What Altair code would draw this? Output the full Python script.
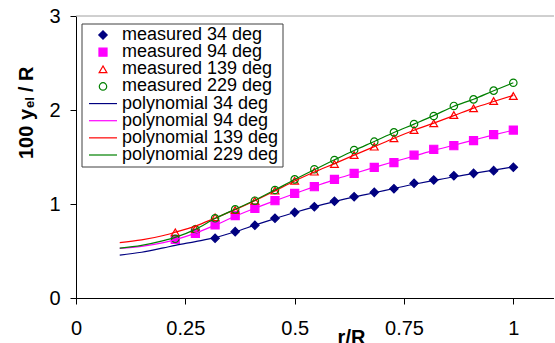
import altair as alt
import pandas as pd

FONT = "Liberation Sans"

series = ["34", "94", "139", "229"]
colors = ["#000080", "#FF00FF", "#FF0000", "#008000"]
shapes = ["diamond", "square", "triangle-up", "circle"]
fills = ["#000080", "#FF00FF", "transparent", "transparent"]
sizes = [70, 55, 80, 50]

r_meas = [0.227, 0.273, 0.318, 0.364, 0.409, 0.455, 0.5, 0.545, 0.591,
          0.636, 0.682, 0.727, 0.773, 0.818, 0.864, 0.909, 0.955, 1.0]
meas_34 = [None, None, 0.635, 0.706, 0.773, 0.848, 0.911, 0.971, 1.03,
           1.078, 1.124, 1.163, 1.22, 1.255, 1.301, 1.326, 1.355, 1.39]
meas_94 = [0.624, 0.688, 0.777, 0.876, 0.954, 1.035, 1.113, 1.184, 1.262,
           1.326, 1.39, 1.44, 1.52, 1.582, 1.62, 1.674, 1.738, 1.787]
meas_139 = [0.699, 0.734, 0.858, 0.936, 1.035, 1.142, 1.248, 1.344, 1.426,
            1.521, 1.61, 1.699, 1.787, 1.858, 1.947, 2.018, 2.096, 2.149]
meas_229 = [0.63, 0.73, 0.848, 0.943, 1.035, 1.149, 1.262, 1.369, 1.468,
            1.574, 1.663, 1.762, 1.851, 1.936, 2.043, 2.113, 2.206, 2.29]

r_poly = [0.1, 0.15, 0.2, 0.227, 0.273, 0.318, 0.364, 0.409, 0.455, 0.5, 0.545,
          0.591, 0.636, 0.682, 0.727, 0.773, 0.818, 0.864, 0.909, 0.955, 1.0]
poly_34 = [0.457, 0.487, 0.533, 0.56, 0.6, 0.642, 0.705, 0.775, 0.845, 0.91, 0.97,
           1.025, 1.075, 1.12, 1.165, 1.21, 1.25, 1.29, 1.325, 1.36, 1.395]
poly_94 = [0.528, 0.55, 0.59, 0.62, 0.69, 0.775, 0.87, 0.955, 1.035, 1.11, 1.185,
           1.26, 1.325, 1.39, 1.45, 1.51, 1.57, 1.625, 1.68, 1.735, 1.785]
poly_139 = [0.59, 0.618, 0.665, 0.70, 0.765, 0.85, 0.94, 1.035, 1.14, 1.245, 1.34,
            1.43, 1.52, 1.61, 1.70, 1.785, 1.86, 1.94, 2.02, 2.09, 2.155]
poly_229 = [0.53, 0.56, 0.61, 0.645, 0.73, 0.845, 0.945, 1.04, 1.15, 1.26, 1.365,
            1.47, 1.57, 1.665, 1.76, 1.85, 1.94, 2.04, 2.115, 2.205, 2.29]

meas = {"34": meas_34, "94": meas_94, "139": meas_139, "229": meas_229}
poly = {"34": poly_34, "94": poly_94, "139": poly_139, "229": poly_229}

df_m = pd.DataFrame([
    {"series": s, "r": r, "y": v}
    for s in series for r, v in zip(r_meas, meas[s]) if v is not None
])
df_p = pd.DataFrame([
    {"series": s, "r": r, "y": v}
    for s in series for r, v in zip(r_poly, poly[s])
])

legend_labels = [f"measured {s} deg" for s in series] + [f"polynomial {s} deg" for s in series]
df_leg = pd.DataFrame({
    "label": legend_labels,
    "series": series * 2,
    "kind": ["measured"] * 4 + ["polynomial"] * 4,
})

title_parts = ["100 y", "el", "/ R"]

W, H = 478, 282

x_scale = alt.Scale(domain=[0, 1.093], nice=False, zero=False)
y_scale = alt.Scale(domain=[0, 3], nice=False)
stroke_enc = alt.Stroke("series:N", scale=alt.Scale(domain=series, range=colors), legend=None)
fill_enc = alt.Fill("series:N", scale=alt.Scale(domain=series, range=fills), legend=None)
shape_enc = alt.Shape("series:N", scale=alt.Scale(domain=series, range=shapes), legend=None)
size_enc = alt.Size("series:N", scale=alt.Scale(domain=series, range=sizes), legend=None)

x_axis = alt.Axis(
    values=[0, 0.25, 0.5, 0.75, 1], format=".2~f", title="r/R",
    titleFont=FONT, titleFontSize=20, titleFontWeight="bold", titleColor="black",
    titleX=275, titleY=45, titleAlign="center", titleBaseline="alphabetic",
    labelFont=FONT, labelFontSize=20, labelColor="black", labelPadding=14,
    labelFlush=False, labelOverlap=False, labelBound=False,
    tickSize=6, tickColor="black", domainColor="black", grid=False,
)
y_axis = alt.Axis(
    values=[0, 1, 2, 3], format="d", title=None,
    labelFont=FONT, labelFontSize=20, labelColor="black", labelPadding=10,
    labelFlush=False, labelOverlap=False, labelBound=False,
    tickSize=6, tickColor="black", domainColor="black", grid=False,
)

points = alt.Chart(df_m).mark_point(opacity=1, strokeWidth=1.2).encode(
    x=alt.X("r:Q", scale=x_scale, axis=x_axis),
    y=alt.Y("y:Q", scale=y_scale, axis=y_axis),
    shape=shape_enc, stroke=stroke_enc, fill=fill_enc, size=size_enc,
)
lines = alt.Chart(df_p).mark_line(strokeWidth=1.2, interpolate="monotone").encode(
    x=alt.X("r:Q", scale=x_scale),
    y=alt.Y("y:Q", scale=y_scale),
    stroke=stroke_enc,
)
main = alt.layer(points, lines)

dummy = pd.DataFrame({"d": [0]})
top_rule = alt.Chart(dummy).mark_rule(color="#A0A0A0", strokeWidth=1).encode(
    x=alt.value(0), x2=alt.value(W), y=alt.value(0)
)

leg_y = alt.Y("label:N", axis=None,
              scale=alt.Scale(type="point", domain=legend_labels, range=[19, 139], padding=0))
box = alt.Chart(dummy).mark_rect(fill="white", stroke="#404040", strokeWidth=1).encode(
    x=alt.value(6), x2=alt.value(207), y=alt.value(8), y2=alt.value(151)
)
leg_pts = alt.Chart(df_leg).transform_filter(alt.datum.kind == "measured").mark_point(
    opacity=1, strokeWidth=1.2
).encode(x=alt.value(27), y=leg_y, shape=shape_enc, stroke=stroke_enc, fill=fill_enc, size=size_enc)
leg_lines = alt.Chart(df_leg).transform_filter(alt.datum.kind == "polynomial").mark_rule(
    strokeWidth=1.2
).encode(x=alt.value(13), x2=alt.value(41), y=leg_y, stroke=stroke_enc)
leg_text = alt.Chart(df_leg).mark_text(
    align="left", baseline="middle", font=FONT, fontSize=18, color="black"
).encode(x=alt.value(46), y=leg_y, text="label:N")
legend = alt.layer(box, leg_pts, leg_lines, leg_text)

t1 = alt.Chart(dummy).mark_text(
    angle=270, align="left", baseline="alphabetic", font=FONT, fontSize=20,
    fontWeight="bold", color="black", text=title_parts[0]
).encode(x=alt.value(-43), y=alt.value(143))
t2 = alt.Chart(dummy).mark_text(
    angle=270, align="left", baseline="alphabetic", font=FONT, fontSize=13,
    fontWeight="bold", color="black", text=title_parts[1]
).encode(x=alt.value(-42), y=alt.value(92))
t3 = alt.Chart(dummy).mark_text(
    angle=270, align="left", baseline="alphabetic", font=FONT, fontSize=20,
    fontWeight="bold", color="black", text=title_parts[2]
).encode(x=alt.value(-43), y=alt.value(76))

chart = alt.layer(top_rule, main, legend, t1, t2, t3).resolve_scale(
    y="independent"
).properties(
    width=W, height=H,
    autosize=alt.AutoSizeParams(type="none"),
    padding={"left": 76, "top": 16, "right": 0, "bottom": 45},
    background="white",
).configure_view(stroke=None)

chart.save("out.html", embed_options={"renderer": "svg", "actions": False})
